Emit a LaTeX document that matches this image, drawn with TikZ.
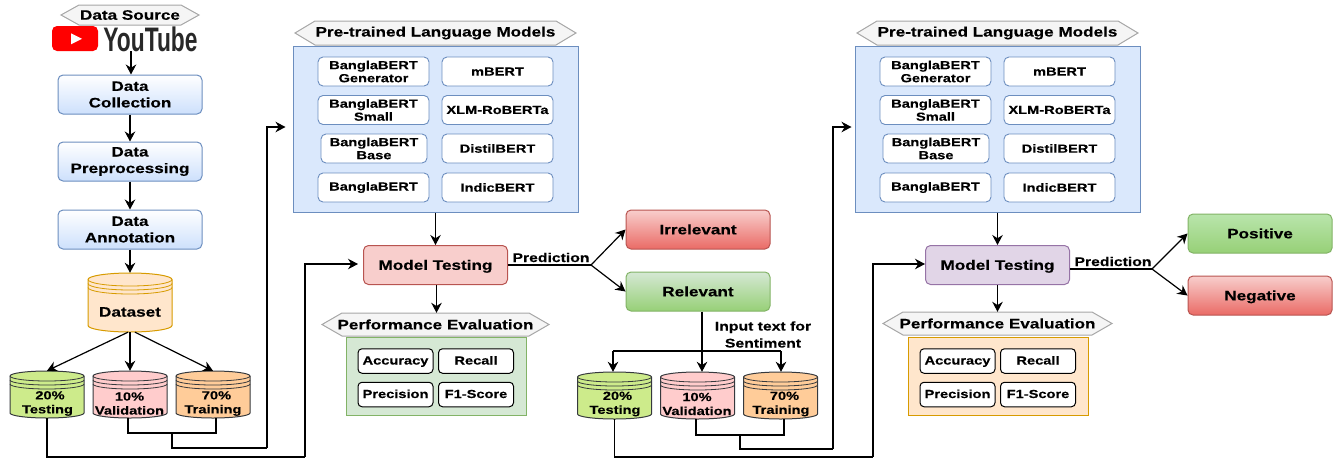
\documentclass[tikz,border=0pt]{standalone}
\usepackage{fontspec}
\setmainfont[FakeStretch=1.25,BoldFeatures={FakeBold=0.25}]{Liberation Sans}
\newfontfamily\ytfont[FakeStretch=0.67]{Liberation Sans}
\usetikzlibrary{arrows.meta}
\definecolor{blueedge}{HTML}{6C8EBF}
\definecolor{bluefill}{HTML}{DAE8FC}
\definecolor{bluelow}{HTML}{CDE0FC}
\definecolor{redfill}{HTML}{F8CECC}
\definecolor{redlow}{HTML}{EA6B66}
\definecolor{rededge}{HTML}{B85450}
\definecolor{greenfill}{HTML}{D5E8D4}
\definecolor{greenlow}{HTML}{97D077}
\definecolor{greenedge}{HTML}{82B366}
\definecolor{greentop}{HTML}{B9E5AC}
\definecolor{purplefill}{HTML}{E1D5E7}
\definecolor{purpleedge}{HTML}{9673A6}
\definecolor{orangefill}{HTML}{FFE6CC}
\definecolor{orangeedge}{HTML}{D79B00}
\definecolor{limefill}{HTML}{CDEB8B}
\definecolor{pinkfill}{HTML}{FFCCCC}
\definecolor{peachfill}{HTML}{FFCC99}
\definecolor{drumedge}{HTML}{36393D}
\definecolor{hexfill}{HTML}{F5F5F5}
\definecolor{hexedge}{HTML}{A6A6A6}
\definecolor{ytred}{HTML}{FF0000}
\definecolor{ytgray}{HTML}{282828}
\tikzset{
    bigtext/.style={font=\fontsize{13.7}{16.5}\bfseries\selectfont, align=center},
    midtext/.style={font=\fontsize{12.6}{17}\bfseries\selectfont, align=center},
    smalltext/.style={font=\fontsize{11.7}{13}\bfseries\selectfont, align=center},
    drumtext/.style={font=\fontsize{11.7}{14}\bfseries\selectfont, align=center},
    stepbox/.style={draw=blueedge, top color=white, bottom color=bluelow, rounded corners=5pt, line width=1pt, minimum width=144pt, minimum height=39pt, inner sep=0pt, bigtext, execute at begin node={\rule{0pt}{15pt}}},
    resultbox/.style={rounded corners=5pt, line width=1pt, minimum width=144pt, minimum height=39pt, inner sep=0pt, bigtext, text height=9.7pt, text depth=0pt},
    modelbox/.style={draw=blueedge, fill=white, rounded corners=5pt, line width=0.9pt, minimum height=29pt, inner sep=0pt, smalltext},
    metricbox/.style={draw=black, fill=white, rounded corners=4pt, line width=1pt, minimum width=75pt, minimum height=24.5pt, inner sep=0pt, smalltext, text height=8pt, text depth=1pt},
    arrowline/.style={-{Stealth[length=10pt,width=10.5pt]}, line width=1.2pt},
    joinline/.style={line width=1.8pt},
    plainline/.style={line width=1.1pt}
}
% cylinder: name, x, y, half width, half height, top radius, fill, edge
\newcommand{\drum}[8]{
    \draw[draw=#8, fill=#7, line width=1pt] ({#2-#4},{#3-#5+#6}) arc[start angle=180, end angle=0, x radius=#4pt, y radius=#6pt] -- ({#2+#4},{#3+#5-#6}) arc[start angle=0, end angle=-180, x radius=#4pt, y radius=#6pt] -- cycle;
    \foreach \off in {0,4,8} {
        \draw[draw=#8, line width=0.8pt] ({#2-#4},{#3-#5+#6+\off}) arc[start angle=180, end angle=360, x radius=#4pt, y radius=#6pt];
    }
    \node[minimum width=2*#4 pt, minimum height=2*#5 pt, inner sep=0pt] (#1) at (#2,#3) {};
}
% banner: name, x, y, half width, half height, slant, text
\newcommand{\banner}[7]{
    \draw[draw=hexedge, fill=hexfill, line width=1pt] ({#2-#4},#3) -- ({#2-#4+#6},{#3-#5}) -- ({#2+#4-#6},{#3-#5}) -- ({#2+#4},#3) -- ({#2+#4-#6},{#3+#5}) -- ({#2-#4+#6},{#3+#5}) -- cycle;
    \node[minimum width=2*#4 pt, minimum height=2*#5 pt, inner sep=0pt, bigtext] (#1) at (#2,#3) {#7};
}
\begin{document}
\begin{tikzpicture}[x=1pt,y=-1pt]
    \useasboundingbox (0,0) rectangle (1340,461);

    % source column
    \banner{source}{130}{15}{69}{10}{18}{Data Source}
    \node[fill=ytred, rounded corners=5pt, minimum width=46pt, minimum height=25pt, inner sep=0pt] (ytlogo) at (75,38.5) {};
    \fill[white] (71,33.3) -- (82,38.8) -- (71,44.3) -- cycle;
    \node[inner sep=0pt, text=ytgray, font=\ytfont\bfseries\fontsize{34}{34}\selectfont] (ytname) at (150.5,39) {YouTube};
    \coordinate (ytout) at (131,51);

    \node[stepbox] (collect) at (130,94.5) {Data\\Collection};
    \node[stepbox] (prepro) at (130,161.5) {Data\\Preprocessing};
    \node[stepbox] (annot) at (130,229.5) {Data\\Annotation};

    \drum{dataset}{130}{302.5}{42}{29.5}{6.5}{orangefill}{orangeedge}
    \node[bigtext] (datasettxt) at (130,312) {Dataset};

    \draw[arrowline] (ytout) -- (collect.north -| ytout);
    \draw[arrowline] (collect) -- (prepro);
    \draw[arrowline] (prepro) -- (annot);
    \draw[arrowline] (annot) -- (dataset);

    % first split
    \drum{testa}{47}{394.5}{37}{23.5}{5}{limefill}{drumedge}
    \drum{vala}{130}{394.5}{37}{23.5}{5}{pinkfill}{drumedge}
    \drum{traina}{213}{394.5}{37}{23.5}{5}{peachfill}{drumedge}
    \node[drumtext] (testatxt) at (47.5,403.5) {\hspace*{5pt}20\%\\Testing};
    \node[drumtext] (valatxt) at (129.5,403.5) {10\%\\Validation};
    \node[drumtext] (trainatxt) at (213,403.5) {\hspace*{7pt}70\%\\Training};

    \draw[arrowline] ([xshift=-2pt]dataset.south) -- (testa.north);
    \draw[arrowline] (dataset) -- (vala);
    \draw[arrowline] ([xshift=5pt]dataset.south) -- (traina.north);

    % second split
    \drum{testb}{614.5}{395.5}{37}{23.5}{5}{limefill}{drumedge}
    \drum{valb}{697.5}{395.5}{37}{23.5}{5}{pinkfill}{drumedge}
    \drum{trainb}{780.5}{395.5}{37}{23.5}{5}{peachfill}{drumedge}
    \node[drumtext] (testbtxt) at (615,404) {\hspace*{5pt}20\%\\Testing};
    \node[drumtext] (valbtxt) at (697,404) {10\%\\Validation};
    \node[drumtext] (trainbtxt) at (781,404) {\hspace*{7pt}70\%\\Training};

    % both model panels
    \foreach \p/\dx/\mfill/\medge/\efill/\eedge in {a/0/redfill/rededge/greenfill/greenedge,b/562/purplefill/purpleedge/orangefill/orangeedge} {
        \begin{scope}[xshift=\dx pt]
            \node[draw=blueedge, fill=bluefill, line width=1pt, minimum width=285pt, minimum height=166pt, inner sep=0pt] (panel\p) at (435.5,129) {};
            \banner{title\p}{435.5}{33}{140.5}{12}{20}{Pre-trained Language Models}
            \foreach \n/\cx/\cy/\bw/\txt in {1/373.5/71.5/111/{BanglaBERT\\Generator},2/373.5/110/111/{BanglaBERT\\Small},3/374/148.5/106/{BanglaBERT\\Base},4/373.5/187.5/111/{BanglaBERT},5/497.5/71.5/111/{mBERT},6/497.5/110/111/{XLM-RoBERTa},7/497.5/148.5/111/{DistilBERT},8/497.5/187.5/111/{IndicBERT}} {
                \node[modelbox, minimum width=\bw pt] (bert\p\n) at (\cx,\cy) {\txt};
            }
            \node[resultbox, draw=\medge, fill=\mfill] (mtest\p) at (435.5,265) {Model Testing};
            \node[draw=\eedge, fill=\efill, line width=1pt, minimum width=180pt, minimum height=78pt, inner sep=0pt] (eval\p) at (436,376) {};
            \node[metricbox] (acc\p) at (395.5,361) {Accuracy};
            \node[metricbox] (rec\p) at (476,361) {Recall};
            \node[metricbox] (pre\p) at (395.5,394.5) {Precision};
            \node[metricbox] (fone\p) at (476,394.5) {F1-Score};
            \draw[arrowline] (panel\p) -- (mtest\p);
        \end{scope}
    }
    \banner{perfa}{435.5}{324.5}{113.5}{11.5}{20}{Performance Evaluation}
    \banner{perfb}{997.5}{323.5}{114.5}{11.5}{20}{Performance Evaluation}
    \draw[arrowline] ([xshift=1pt]mtesta.south) -- ([xshift=1pt]perfa.north);
    \draw[arrowline] (mtestb) -- (perfb);

    % results
    \node[resultbox, draw=rededge, top color=redfill, bottom color=redlow] (irrel) at (698,229.5) {Irrelevant};
    \node[resultbox, draw=greenedge, top color=greenfill, bottom color=greenlow] (rel) at (698,291.5) {Relevant};
    \node[resultbox, draw=greenedge, top color=greentop, bottom color=greenlow] (pos) at (1260,233.5) {Positive};
    \node[resultbox, draw=rededge, top color=redfill, bottom color=redlow] (neg) at (1260,295.5) {Negative};

    \coordinate (brancha) at (591,265);
    \coordinate (branchb) at (1152,269);
    \draw[plainline, line width=1.6pt] (mtesta.east) -- (brancha);
    \draw[arrowline] (brancha) -- (irrel.west);
    \draw[arrowline] (brancha) -- (rel.west);
    \node[inner sep=0pt, midtext] (preda) at (551,257.5) {Prediction};
    \draw[plainline, line width=1.6pt] (mtestb.east |- branchb) -- (branchb);
    \draw[arrowline] (branchb) -- (pos.west);
    \draw[arrowline] (branchb) -- (neg.west);
    \node[inner sep=0pt, midtext] (predb) at (1113,261.5) {Prediction};

    % sentiment input
    \coordinate (fork) at (702,351);
    \coordinate (forkl) at (613,351);
    \coordinate (forkr) at (781,351);
    \draw[plainline] (rel.south -| fork) -- (fork);
    \draw[plainline] (forkl) -- (forkr);
    \draw[arrowline] (forkl) -- (forkl |- testb.north);
    \draw[arrowline] (fork) -- (fork |- valb.north);
    \draw[arrowline] (forkr) -- (forkr |- trainb.north);
    \node[inner sep=0pt, midtext] (inputtxt) at (763,334.5) {Input text for\\Sentiment};

    % joining the splits
    \coordinate (joina) at (172,433);
    \coordinate (joinb) at (740,435);
    \draw[joinline] ([xshift=-2pt]vala.south) |- (joina) -| ([xshift=3pt]traina.south);
    \draw[joinline] ([xshift=-1.5pt]valb.south) |- (joinb) -| ([xshift=3.5pt]trainb.south);
    \coordinate (turna) at (267,448);
    \coordinate (turnb) at (833,449);
    \draw[plainline, line width=1.4pt] (joina) |- (turna);
    \draw[arrowline, line width=1.4pt, shorten >=7pt] (turna) |- ([yshift=2pt]panela.west);
    \draw[plainline, line width=1.4pt] (joinb) |- (turnb);
    \draw[arrowline, line width=1.4pt, shorten >=3pt] (turnb) |- ([yshift=2pt]panelb.west);
    \coordinate (turnc) at (305,457);
    \coordinate (turnd) at (873,457);
    \draw[plainline] (testa.south) |- (turnc);
    \draw[arrowline, shorten >=5pt] (turnc) |- ([yshift=1pt]mtesta.west);
    \draw[plainline] (testb.south) |- (turnd);
    \draw[arrowline] (turnd) |- ([yshift=1pt]mtestb.west);
\end{tikzpicture}
\end{document}
